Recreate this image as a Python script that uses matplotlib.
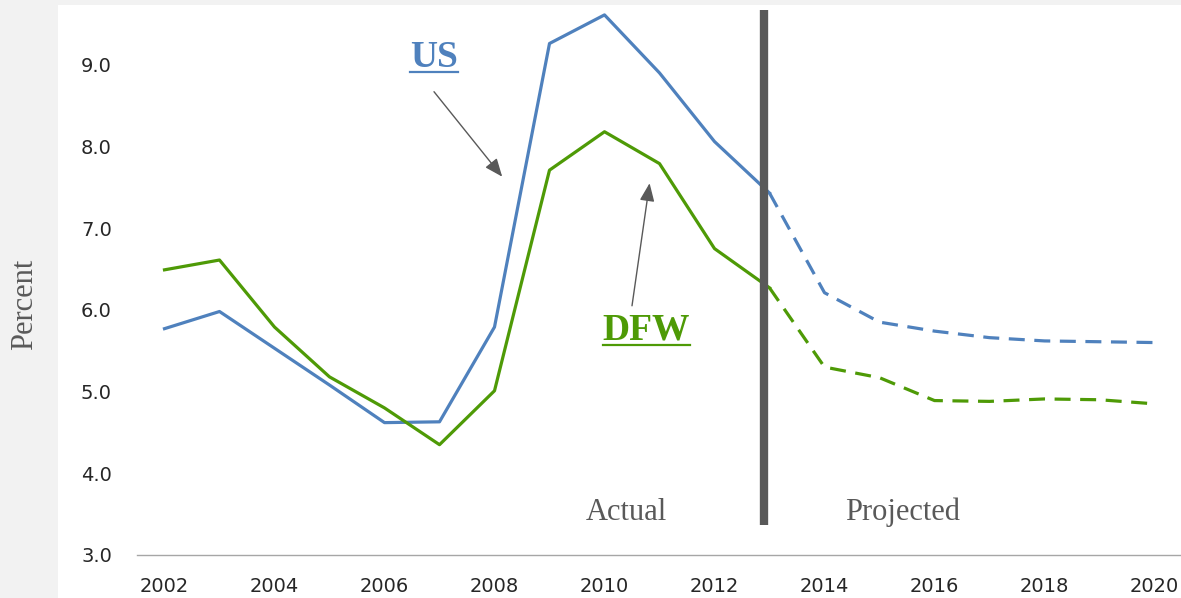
import matplotlib
matplotlib.use("Agg")
import matplotlib.pyplot as plt
from matplotlib.patches import Rectangle
from matplotlib.lines import Line2D

years = list(range(2002, 2021))
us_rate = [5.77, 5.98, 5.53, 5.08, 4.62, 4.63, 5.79, 9.26, 9.61, 8.90, 8.06, 7.43,
           6.21, 5.85, 5.74, 5.66, 5.62, 5.61, 5.60]
dfw_rate = [6.49, 6.61, 5.79, 5.18, 4.80, 4.35, 5.01, 7.71, 8.18, 7.79, 6.75, 6.27,
            5.30, 5.17, 4.89, 4.88, 4.91, 4.90, 4.85]
split_year = 2013  # last actual year
x_ticks = list(range(2002, 2021, 2))
y_ticks = [3.0, 4.0, 5.0, 6.0, 7.0, 8.0, 9.0]

US_COLOR = "#4f81bd"
DFW_COLOR = "#4e9a06"
GRAY = "#595959"
SERIF = "Liberation Serif"

W, H = 1181, 598
fig = plt.figure(figsize=(W / 100, H / 100), dpi=100, facecolor="#f2f2f2")
fig.patches.append(Rectangle((58 / W, 0), 1 - 58 / W, (H - 5) / H,
                             transform=fig.transFigure, facecolor="white",
                             edgecolor="none", zorder=-5))
ax = fig.add_axes([137 / W, 43 / H, 1045 / W, 545 / H])
ax.set_facecolor("white")

i = years.index(split_year)
lw = 2.3
dash = (0, (5, 3))
ax.plot(years[:i + 1], us_rate[:i + 1], color=US_COLOR, lw=lw, zorder=3)
ax.plot(years[i:], us_rate[i:], color=US_COLOR, lw=lw, ls=dash, zorder=3)
ax.plot(years[:i + 1], dfw_rate[:i + 1], color=DFW_COLOR, lw=lw, zorder=3)
ax.plot(years[i:], dfw_rate[i:], color=DFW_COLOR, lw=lw, ls=dash, zorder=3)

ax.vlines(split_year - 0.1, 3.37, 9.67, color=GRAY, lw=6, zorder=4)

ax.set_xlim(2001.5, 2020.5)
ax.set_ylim(3.0, 9.67)
ax.set_xticks(x_ticks)
ax.set_yticks(y_ticks)
ax.set_yticklabels([f"{v:.1f}" for v in y_ticks])
ax.tick_params(axis="both", length=0, labelsize=14, labelcolor="#262626")
ax.tick_params(axis="y", pad=18)
ax.tick_params(axis="x", pad=16)
for s in ["top", "right", "left"]:
    ax.spines[s].set_visible(False)
ax.spines["bottom"].set_color("#a6a6a6")
ax.spines["bottom"].set_linewidth(1.0)

fig.text(25 / W, 1 - 304 / H, "Percent", rotation=90, ha="center", va="center",
         family=SERIF, fontsize=22, color=GRAY)

ax.text(2010.4, 3.43, "Actual", ha="center", va="baseline", family=SERIF,
        fontsize=22, color=GRAY)
ax.text(2015.42, 3.43, "Projected", ha="center", va="baseline", family=SERIF,
        fontsize=22, color=GRAY)

us_lbl = ax.text(2006.9, 8.975, "US", ha="center", va="baseline",
                 family=SERIF, fontweight="bold", fontsize=27, color=US_COLOR)
dfw_lbl = ax.text(2010.76, 5.633, "DFW", ha="center", va="baseline",
                  family=SERIF, fontweight="bold", fontsize=27, color=DFW_COLOR)

arrow = dict(arrowstyle="-|>,head_length=1.1,head_width=0.45", color=GRAY, lw=1.0,
             shrinkA=0, shrinkB=0)
ax.annotate("", xy=(2008.14, 7.63), xytext=(2006.9, 8.67), arrowprops=arrow)
ax.annotate("", xy=(2010.82, 7.55), xytext=(2010.5, 6.05), arrowprops=arrow)

# underline the two series labels, 5 px below the baseline
for t, c, base in [(us_lbl, US_COLOR, 8.975), (dfw_lbl, DFW_COLOR, 5.633)]:
    bb = t.get_window_extent(fig.canvas.get_renderer())
    y = ax.transData.transform((2010, base))[1] - 5
    fig.add_artist(Line2D([bb.x0 / W, bb.x1 / W], [y / H, y / H],
                          transform=fig.transFigure, color=c, lw=1.6))

fig.savefig("out.png", dpi=100, facecolor=fig.get_facecolor())
